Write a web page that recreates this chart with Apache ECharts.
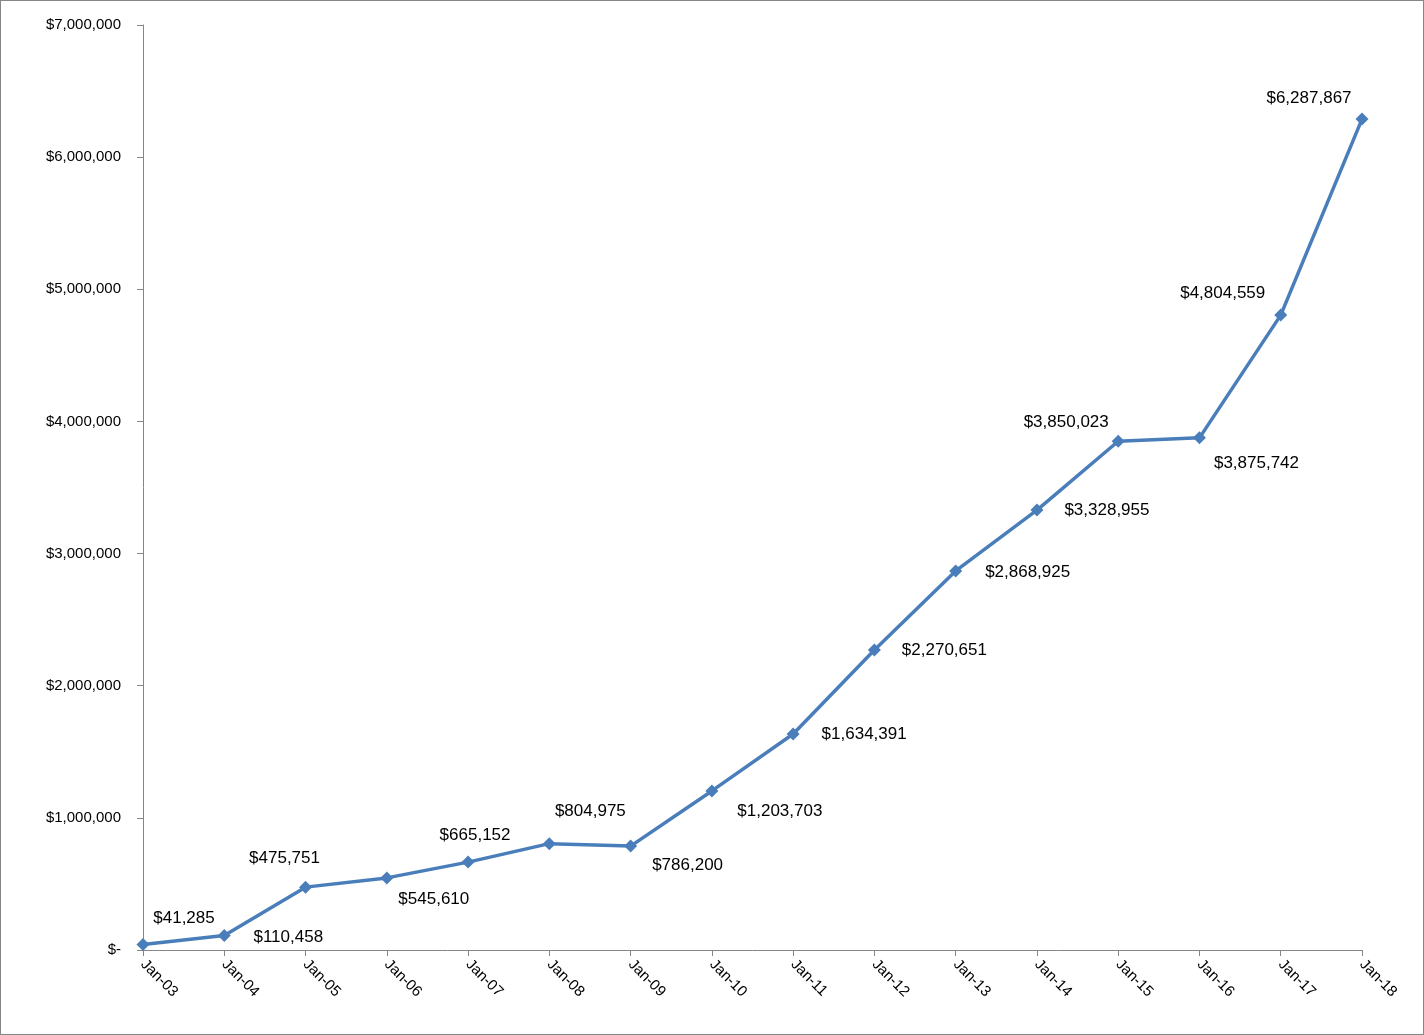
<!DOCTYPE html>
<html>
<head>
<meta charset="utf-8">
<script src="https://cdn.jsdelivr.net/npm/echarts@6/dist/echarts.min.js"></script>
<style>
html,body{margin:0;padding:0;background:#fff;}
#chart{width:1422px;height:1033px;border:1px solid #868686;}
</style>
</head>
<body>
<div id="chart"></div>
<script>
var categories = ['Jan-03','Jan-04','Jan-05','Jan-06','Jan-07','Jan-08','Jan-09','Jan-10','Jan-11','Jan-12','Jan-13','Jan-14','Jan-15','Jan-16','Jan-17','Jan-18'];
var values = [41285,110458,475751,545610,665152,804975,786200,1203703,1634391,2270651,2868925,3328955,3850023,3875742,4804559,6287867];

// label offsets (px from the marker centre)
var labelOffsets = [[41,-26],[64,2],[-21,-29],[47,21],[7,-27],[41,-32],[57,19],[68,20],
	[71,0],[70,0],[72,1],[70,0],[-52,-19],[57,25],[-58,-22],[-53,-21]];

function money(v){
	return v === 0 ? '$-' : '$' + v.toLocaleString('en-US');
}

var chart = echarts.init(document.getElementById('chart'));
chart.setOption({
	animation: false,
	grid: {left: 142, right: 61, top: 24, bottom: 84},
	xAxis: {
		type: 'category',
		boundaryGap: false,
		data: categories,
		axisLine: {lineStyle: {color: '#868686', width: 1}},
		axisTick: {show: true, length: 6, lineStyle: {color: '#868686'}},
		axisLabel: {rotate: -45, color: '#000', fontSize: 15, fontFamily: 'Liberation Sans', margin: 12}
	},
	yAxis: {
		type: 'value',
		min: 0, max: 7000000, interval: 1000000,
		axisLine: {show: true, lineStyle: {color: '#868686', width: 1}},
		axisTick: {show: true, length: 6, lineStyle: {color: '#868686'}},
		splitLine: {show: false},
		axisLabel: {
			color: '#000', fontSize: 15, fontFamily: 'Liberation Sans', margin: 22,
			formatter: money
		}
	},
	series: [{
		type: 'line',
		data: values.map(function(v, i){
			return {value: v, label: {offset: labelOffsets[i]}};
		}),
		symbol: 'diamond',
		symbolSize: 13,
		lineStyle: {color: '#4A7EBB', width: 3.5},
		itemStyle: {color: '#4A7EBB'},
		label: {
			show: true,
			position: 'inside',
			color: '#000',
			fontSize: 17,
			fontFamily: 'Liberation Sans',
			formatter: function(p){ return money(p.value); }
		}
	}]
});
</script>
</body>
</html>
